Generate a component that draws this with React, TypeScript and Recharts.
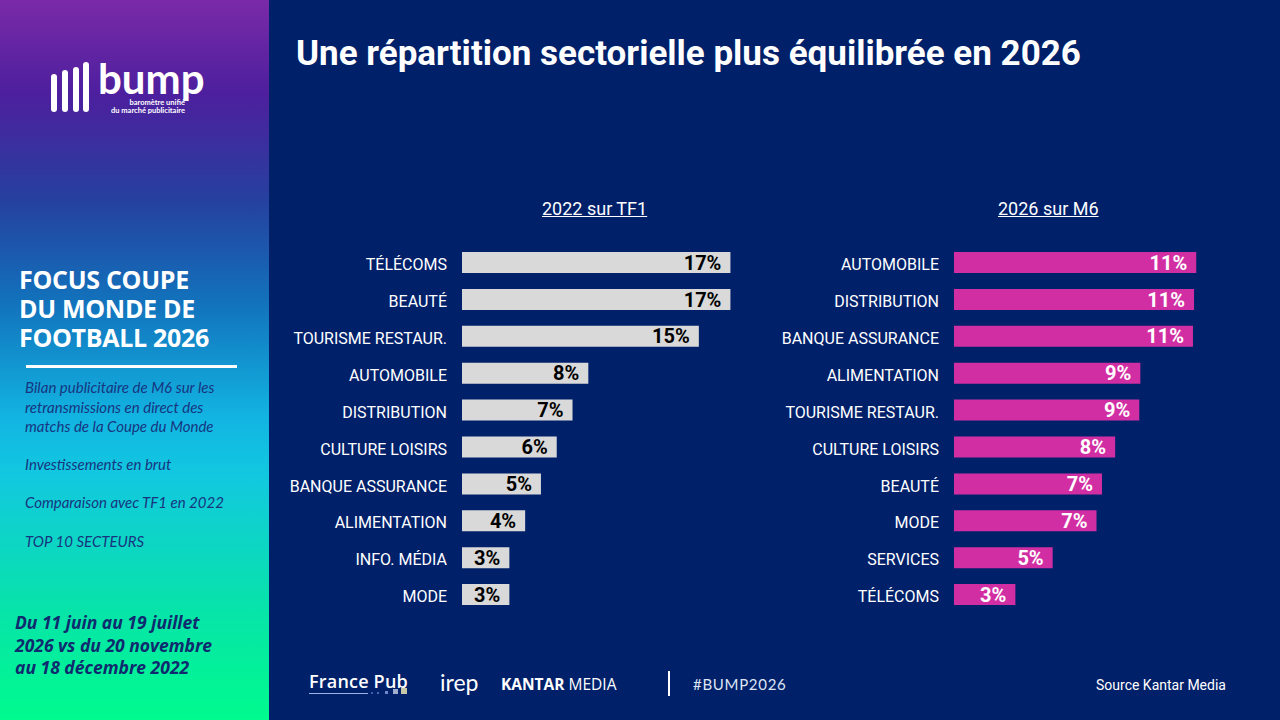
import React from 'react';
import { BarChart, Bar, XAxis, YAxis, LabelList } from 'recharts';

const sectors2022 = ['TÉLÉCOMS', 'BEAUTÉ', 'TOURISME RESTAUR.', 'AUTOMOBILE', 'DISTRIBUTION', 'CULTURE LOISIRS', 'BANQUE ASSURANCE', 'ALIMENTATION', 'INFO. MÉDIA', 'MODE'];
const values2022 = [17, 17, 15, 8, 7, 6, 5, 4, 3, 3];
const labels2022 = ['17%', '17%', '15%', '8%', '7%', '6%', '5%', '4%', '3%', '3%'];

const sectors2026 = ['AUTOMOBILE', 'DISTRIBUTION', 'BANQUE ASSURANCE', 'ALIMENTATION', 'TOURISME RESTAUR.', 'CULTURE LOISIRS', 'BEAUTÉ', 'MODE', 'SERVICES', 'TÉLÉCOMS'];
const values2026 = [11.05, 10.95, 10.9, 8.5, 8.45, 7.35, 6.75, 6.5, 4.5, 2.8];
const labels2026 = ['11%', '11%', '11%', '9%', '9%', '8%', '7%', '7%', '5%', '3%'];

const sideNotes = ['Investissements en brut', 'Comparaison avec TF1 en 2022', 'TOP 10 SECTEURS'];
const sideNoteTops = [455, 493, 532];

const toRows = (names: string[], values: number[], labels: string[]) =>
  names.map((name, i) => ({ name, value: values[i], label: labels[i] }));

const abs = (left: number, top: number, extra: React.CSSProperties = {}): React.CSSProperties => ({
  position: 'absolute',
  left,
  top,
  whiteSpace: 'nowrap',
  ...extra,
});

const SectorChart = ({ rows, left, axisWidth, plotWidth, max, fill, labelColor }: any) => (
  <div style={{ position: 'absolute', left, top: 243.5 }}>
    <BarChart
      layout="vertical"
      width={axisWidth + plotWidth}
      height={369}
      data={rows}
      margin={{ top: 0, right: 0, bottom: 0, left: 0 }}
    >
      <XAxis type="number" hide domain={[0, max]} />
      <YAxis
        type="category"
        dataKey="name"
        width={axisWidth}
        interval={0}
        axisLine={false}
        tickLine={false}
        tickMargin={15}
        tickSize={0}
        dy={2}
        tick={{ fill: '#ffffff', fontFamily: 'Roboto', fontSize: 16 }}
      />
      <Bar dataKey="value" fill={fill} barSize={21} isAnimationActive={false}>
        <LabelList
          dataKey="label"
          position="insideRight"
          offset={9}
          fill={labelColor}
          style={{ fontFamily: 'Roboto', fontSize: 20, fontWeight: 700 }}
        />
      </Bar>
    </BarChart>
  </div>
);

const App = () => (
  <div
    style={{
      position: 'absolute',
      left: 0,
      top: 0,
      width: 1280,
      height: 720,
      overflow: 'hidden',
      background: '#00206a',
      fontFamily: 'Roboto',
      color: '#fff',
    }}
  >
    {/* side panel */}
    <div
      style={{
        position: 'absolute',
        left: 0,
        top: 0,
        width: 269,
        height: 720,
        background:
          'linear-gradient(180deg, #7a2aa8 0%, #4d1f9e 13%, #25419f 28%, #1272bc 42%, #12b4e2 58%, #12c8e0 66%, #07e4a8 85%, #00fb8e 100%)',
      }}
    />

    {/* logo */}
    {[[51, 74, 38], [62, 70, 42], [73, 67, 45], [83, 62, 50]].map(([x, y, h], i) => (
      <div key={i} style={abs(x, y, { width: 6, height: h, borderRadius: 3, background: '#fff' })} />
    ))}
    <div style={abs(98, 53, { fontFamily: 'Lato', fontWeight: 700, fontSize: 42, lineHeight: '50px', letterSpacing: 0 })}>bump</div>
    <div style={abs(106, 99, { width: 79, textAlign: 'right', fontFamily: 'Lato', fontWeight: 700, fontSize: 7.5, lineHeight: '8px' })}>
      baromètre unifié
      <br />
      du marché publicitaire
    </div>

    <div style={abs(19, 265, { fontFamily: 'Open Sans', fontWeight: 700, fontSize: 25, lineHeight: '29px', letterSpacing: -0.3 })}>
      FOCUS COUPE
      <br />
      DU MONDE DE
      <br />
      FOOTBALL 2026
    </div>
    <div style={abs(26, 365, { width: 211, height: 3, background: '#fff' })} />
    <div style={abs(25, 378, { fontFamily: 'Lato', fontStyle: 'italic', fontSize: 15, lineHeight: '19.5px', color: '#17357f' })}>
      Bilan publicitaire de M6 sur les
      <br />
      retransmissions en direct des
      <br />
      matchs de la Coupe du Monde
    </div>
    {sideNotes.map((note, i) => (
      <div key={note} style={abs(25, sideNoteTops[i], { fontFamily: 'Lato', fontStyle: 'italic', fontSize: 15, lineHeight: '19px', color: '#17357f' })}>
        {note}
      </div>
    ))}
    <div style={abs(15, 611, { fontFamily: 'Open Sans', fontStyle: 'italic', fontWeight: 700, fontSize: 17.5, lineHeight: '22.5px', color: '#0f2a6e' })}>
      Du 11 juin au 19 juillet
      <br />
      2026 vs du 20 novembre
      <br />
      au 18 décembre 2022
    </div>

    {/* title */}
    <div style={abs(296, 32, { fontWeight: 700, fontSize: 35, lineHeight: '44px' })}>
      Une répartition sectorielle plus équilibrée en 2026
    </div>

    <div style={abs(542, 198, { fontSize: 18, lineHeight: '21px', textDecoration: 'underline' })}>2022 sur TF1</div>
    <div style={abs(998, 198, { fontSize: 18, lineHeight: '21px', textDecoration: 'underline' })}>2026 sur M6</div>

    <SectorChart
      rows={toRows(sectors2022, values2022, labels2022)}
      left={270}
      axisWidth={192}
      plotWidth={300}
      max={19}
      fill="#d9d9d9"
      labelColor="#000000"
    />
    <SectorChart
      rows={toRows(sectors2026, values2026, labels2026)}
      left={760}
      axisWidth={194}
      plotWidth={285}
      max={13}
      fill="#d22ea3"
      labelColor="#ffffff"
    />

    {/* footer */}
    <div style={abs(309, 669, { fontFamily: 'Open Sans', fontWeight: 600, fontSize: 18, lineHeight: '24px', letterSpacing: 0.2 })}>France Pub</div>
    <div style={abs(309, 693, { width: 59, height: 1, background: '#9fb4e6' })} />
    {[[371, 2, '#3b5bb0'], [377, 2, '#4a68b8'], [385, 3, '#6f87c8'], [393, 5, '#a0aecf'], [401, 6, '#c8c8a8']].map(([x, s, c], i) => (
      <div key={i} style={abs(x as number, 694 - (s as number), { width: s as number, height: s as number, background: c as string })} />
    ))}
    <div style={abs(440, 668, { fontFamily: 'Lato', fontSize: 23, lineHeight: '28px' })}>irep</div>
    <div style={abs(501, 674, { fontFamily: 'Open Sans', fontSize: 15.5, lineHeight: '20px' })}>
      <span style={{ fontWeight: 700 }}>KANTAR</span> MEDIA
    </div>
    <div style={abs(668, 671, { width: 2, height: 25, background: '#fff' })} />
    <div style={abs(693, 674, { fontFamily: 'Lato', fontSize: 15, lineHeight: '20px', letterSpacing: 0.7, color: '#dfe6f5' })}>#BUMP2026</div>
    <div style={abs(1096, 676, { fontSize: 14, lineHeight: '18px' })}>Source Kantar Media</div>
  </div>
);

export default App;
